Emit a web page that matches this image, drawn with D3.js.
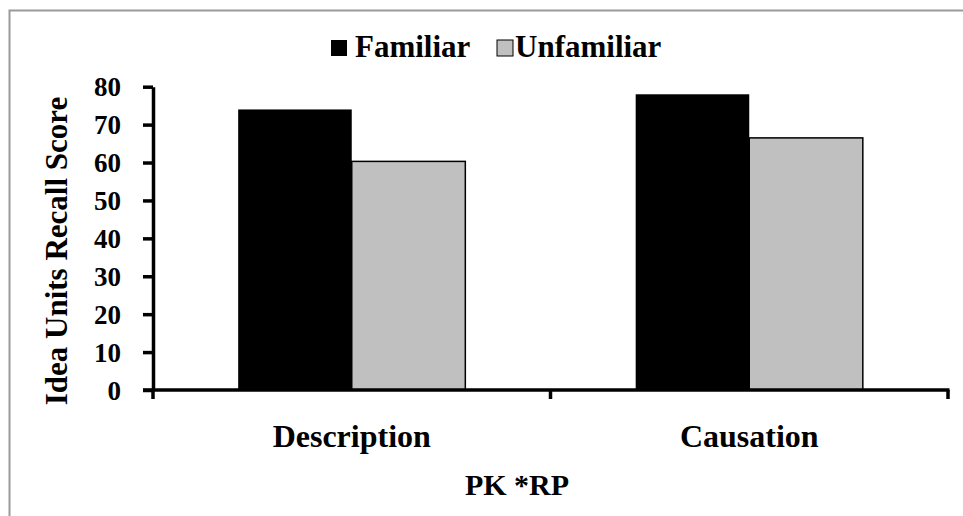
<!DOCTYPE html>
<html><head><meta charset="utf-8">
<script src="https://cdn.jsdelivr.net/npm/d3@7"></script>
<style>body{margin:0;background:#fff}svg{display:block}svg text{font-family:"Liberation Serif","Times New Roman",Times,serif !important;font-weight:bold;fill:#000}</style>
</head><body><svg id="c" width="963" height="516"></svg>
<script>
const categories = ["Description", "Causation"];
const seriesNames = ["Familiar", "Unfamiliar"];
const familiar = [74, 78];
const unfamiliar = [60.3, 66.5];
const yTicks = [0, 10, 20, 30, 40, 50, 60, 70, 80];
const xTitle = "PK *RP";
const yTitle = "Idea Units Recall Score";
const colors = ["#000000", "#c0c0c0"];

const svg = d3.select("#c");
svg.append("rect").attr("x", 9.5).attr("y", 10.5).attr("width", 1000).attr("height", 600)
  .attr("fill", "none").attr("stroke", "#9a9a9a").attr("stroke-width", 2);

const x0 = d3.scaleBand().domain(categories).range([153, 948]).paddingInner(0).paddingOuter(0);
const x1 = d3.scaleBand().domain(seriesNames).range([0, x0.bandwidth()]).paddingInner(0).paddingOuter(0.75);
const y = d3.scaleLinear().domain([0, 80]).range([390, 86.7]);

const data = categories.map((c, i) => ({cat: c, vals: [familiar[i], unfamiliar[i]]}));
const g = svg.append("g");
data.forEach(d => {
  d.vals.forEach((v, j) => {
    g.append("rect")
      .attr("x", x0(d.cat) + x1(seriesNames[j]))
      .attr("y", y(v))
      .attr("width", x1.bandwidth())
      .attr("height", y(0) - y(v))
      .attr("fill", colors[j])
      .attr("stroke", "#000").attr("stroke-width", j === 1 ? 1.5 : 0);
  });
});

// Y axis
const yAxis = d3.axisLeft(y).tickValues(yTicks).tickSize(10).tickPadding(22).tickSizeOuter(0);
const ya = svg.append("g").attr("transform", "translate(153,0)").call(yAxis)
  .attr("font-family", null).attr("font-size", null);
ya.select(".domain").attr("stroke", "#000").attr("stroke-width", 3.5);
ya.selectAll(".tick line").attr("stroke", "#000").attr("stroke-width", 3.5);
ya.selectAll(".tick text").style("font-size", "27px").attr("dy", "0.34em");

// X axis
const xLine = svg.append("g");
xLine.append("line").attr("x1", 143).attr("x2", 949.5).attr("y1", y(0)).attr("y2", y(0))
  .attr("stroke", "#000").attr("stroke-width", 3.5);
const edges = [x0.range()[0], x0(categories[1]), x0.range()[1]];
edges.forEach(e => {
  xLine.append("line").attr("x1", e).attr("x2", e).attr("y1", y(0)).attr("y2", y(0) + 9)
    .attr("stroke", "#000").attr("stroke-width", 3.5);
});
categories.forEach(c => {
  svg.append("text").attr("x", x0(c) + x0.bandwidth() / 2).attr("y", 447)
    .attr("text-anchor", "middle").style("font-size", "32px").text(c);
});

svg.append("text").attr("x", 517).attr("y", 495).attr("text-anchor", "middle")
  .style("font-size", "30px").text(xTitle);
svg.append("text").attr("transform", "translate(67,251) rotate(-90)").attr("text-anchor", "middle")
  .style("font-size", "31px").text(yTitle);

// Legend
const leg = svg.append("g");
const legBox = [331, 497];
const legText = [355, 515];
seriesNames.forEach((s, i) => {
  leg.append("rect").attr("x", legBox[i]).attr("y", 40).attr("width", 16).attr("height", 16)
    .attr("fill", colors[i]).attr("stroke", "#000").attr("stroke-width", i === 1 ? 1 : 0);
  leg.append("text").attr("x", legText[i]).attr("y", 57).style("font-size", "31px").text(s);
});
</script></body></html>
